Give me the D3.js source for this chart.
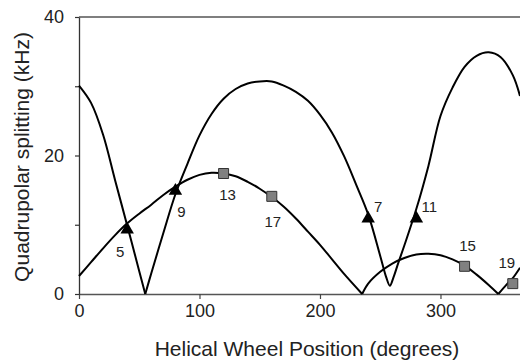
<!DOCTYPE html>
<html>
<head>
<meta charset="utf-8">
<script src="https://cdn.jsdelivr.net/npm/d3@7/dist/d3.min.js"></script>
<style>
  html, body { margin: 0; padding: 0; background: #fff; }
  svg { display: block; font-family: "Liberation Sans", Arial, sans-serif; }
</style>
</head>
<body>
<svg id="chart" width="520" height="362"></svg>
<script>
// Fitted curves (helical wheel position in degrees -> splitting in kHz)
const curveADeg = [0, 10, 20, 30, 40, 50, 55, 60, 70, 80, 90, 100, 110, 120, 130, 140, 150, 160, 170, 180,
  190, 200, 210, 220, 230, 240, 250, 255, 258, 261, 265, 270, 280, 290, 300, 310, 320, 330, 340, 350, 360, 366];
const curveAVal = [30.1, 27.6, 23.0, 16.4, 9.9, 3.3, 0, 3.0, 8.8, 14.4, 18.8, 22.9, 26.0, 28.2, 29.6, 30.4, 30.7, 30.7, 30.1, 29.2,
  27.9, 25.9, 23.3, 19.9, 15.8, 11.5, 5.5, 2.4, 1.2, 2.4, 4.5, 7.0, 12.3, 18.5, 25.7, 29.8, 32.8, 34.4, 34.9, 34.2, 31.6, 28.6];

const curveBDeg = [0, 10, 20, 30, 40, 50, 60, 70, 80, 90, 100, 110, 120, 130, 140, 150, 160, 170, 180, 190,
  200, 210, 220, 235, 240, 250, 260, 270, 280, 290, 300, 310, 320, 330, 340, 348, 355, 360, 366];
const curveBVal = [2.6, 4.6, 6.6, 8.5, 10.2, 11.6, 12.9, 14.3, 15.5, 16.5, 17.2, 17.5, 17.4, 17.0, 16.2, 15.2, 14.0, 12.6, 10.9, 9.0,
  7.1, 5.0, 2.9, 0, 1.5, 3.2, 4.4, 5.2, 5.7, 5.8, 5.6, 5.0, 4.1, 2.8, 1.3, 0, 1.4, 2.3, 3.8];

// Measured residues
const triLabels = ["5", "9", "7", "11"];
const triDeg    = [40, 80, 240, 280];
const triVal    = [9.3, 14.9, 10.9, 10.9];

const sqLabels = ["13", "17", "15", "19"];
const sqDeg    = [120, 160, 320, 360];
const sqVal    = [17.4, 14.1, 4.0, 1.5];

const xTicks = [0, 100, 200, 300];
const yTicks = [0, 10, 20, 30, 40];
const yTickLabels = ["0", "", "20", "", "40"];

// label placement relative to the marker (px)
const labelOffset = {
  "5": [-7, 22], "9": [6, 21], "7": [10, -12], "11": [13, -12],
  "13": [4, 21], "17": [1, 25], "15": [3, -21], "19": [-6, -21]
};

const svg = d3.select("#chart");
const plotL = 79, plotR = 520, plotT = 17, plotB = 294;

const x = d3.scaleLinear().domain([0, 366]).range([plotL, plotR]);
const y = d3.scaleLinear().domain([0, 40]).range([plotB, plotT]);

// frame top
svg.append("line")
  .attr("x1", plotL).attr("x2", plotR)
  .attr("y1", plotT).attr("y2", plotT)
  .attr("stroke", "#555").attr("stroke-width", 1.6);

// x axis
const gx = svg.append("g")
  .attr("transform", `translate(0,${plotB})`)
  .call(d3.axisBottom(x).tickValues(xTicks).tickSize(5).tickSizeOuter(0).tickPadding(5));
gx.select(".domain").attr("stroke", "#555").attr("stroke-width", 1.6);
gx.selectAll(".tick line").attr("stroke", "#444").attr("stroke-width", 1.2);
gx.selectAll(".tick text").attr("font-size", 18).attr("fill", "#222")
  .attr("font-family", "Liberation Sans, Arial, sans-serif");

// y axis
const gy = svg.append("g")
  .attr("transform", `translate(${plotL},0)`)
  .call(d3.axisLeft(y).tickValues(yTicks).tickSize(4).tickSizeOuter(0).tickPadding(11)
    .tickFormat((d, i) => yTickLabels[i]));
gy.select(".domain").attr("stroke", "#333").attr("stroke-width", 1.3);
gy.selectAll(".tick line").attr("stroke", "#333").attr("stroke-width", 1.2);
gy.selectAll(".tick text").attr("font-size", 18).attr("fill", "#222")
  .attr("font-family", "Liberation Sans, Arial, sans-serif");

// axis titles
svg.append("text")
  .attr("x", 307).attr("y", 356)
  .attr("text-anchor", "middle")
  .attr("font-size", 21).attr("fill", "#222")
  .text("Helical Wheel Position (degrees)");

svg.append("text")
  .attr("transform", "translate(29,157) rotate(-90)")
  .attr("text-anchor", "middle")
  .attr("font-size", 21).attr("fill", "#222")
  .text("Quadrupolar splitting (kHz)");

// split a curve at its zero points so the cusps stay sharp
function segments(deg, val) {
  const segs = [];
  let cur = [];
  deg.forEach((d, i) => {
    cur.push([d, val[i]]);
    if (val[i] === 0 && cur.length > 1) {
      segs.push(cur);
      cur = [[d, val[i]]];
    }
  });
  if (cur.length > 1) segs.push(cur);
  return segs;
}

const line = d3.line()
  .x(d => x(d[0]))
  .y(d => y(d[1]))
  .curve(d3.curveCatmullRom.alpha(0.5));

[[curveADeg, curveAVal], [curveBDeg, curveBVal]].forEach(([deg, val]) => {
  svg.append("g").selectAll("path")
    .data(segments(deg, val))
    .join("path")
    .attr("d", line)
    .attr("fill", "none")
    .attr("stroke", "#000")
    .attr("stroke-width", 2);
});

// markers
const tris = triDeg.map((d, i) => ({ deg: d, val: triVal[i], label: triLabels[i] }));
const sqs  = sqDeg.map((d, i) => ({ deg: d, val: sqVal[i], label: sqLabels[i] }));

svg.append("g").selectAll("path")
  .data(tris)
  .join("path")
  .attr("transform", d => `translate(${x(d.deg)},${y(d.val)})`)
  .attr("d", d3.symbol(d3.symbolTriangle, 78))
  .attr("fill", "#000");

svg.append("g").selectAll("path")
  .data(sqs)
  .join("path")
  .attr("transform", d => `translate(${x(d.deg)},${y(d.val)})`)
  .attr("d", d3.symbol(d3.symbolSquare, 100))
  .attr("fill", "#808080")
  .attr("stroke", "#333")
  .attr("stroke-width", 1);

svg.append("g").selectAll("text")
  .data(tris.concat(sqs))
  .join("text")
  .attr("x", d => x(d.deg) + labelOffset[d.label][0])
  .attr("y", d => y(d.val) + labelOffset[d.label][1])
  .attr("dy", "0.35em")
  .attr("text-anchor", "middle")
  .attr("font-size", 15)
  .attr("fill", "#222")
  .text(d => d.label);
</script>
</body>
</html>
